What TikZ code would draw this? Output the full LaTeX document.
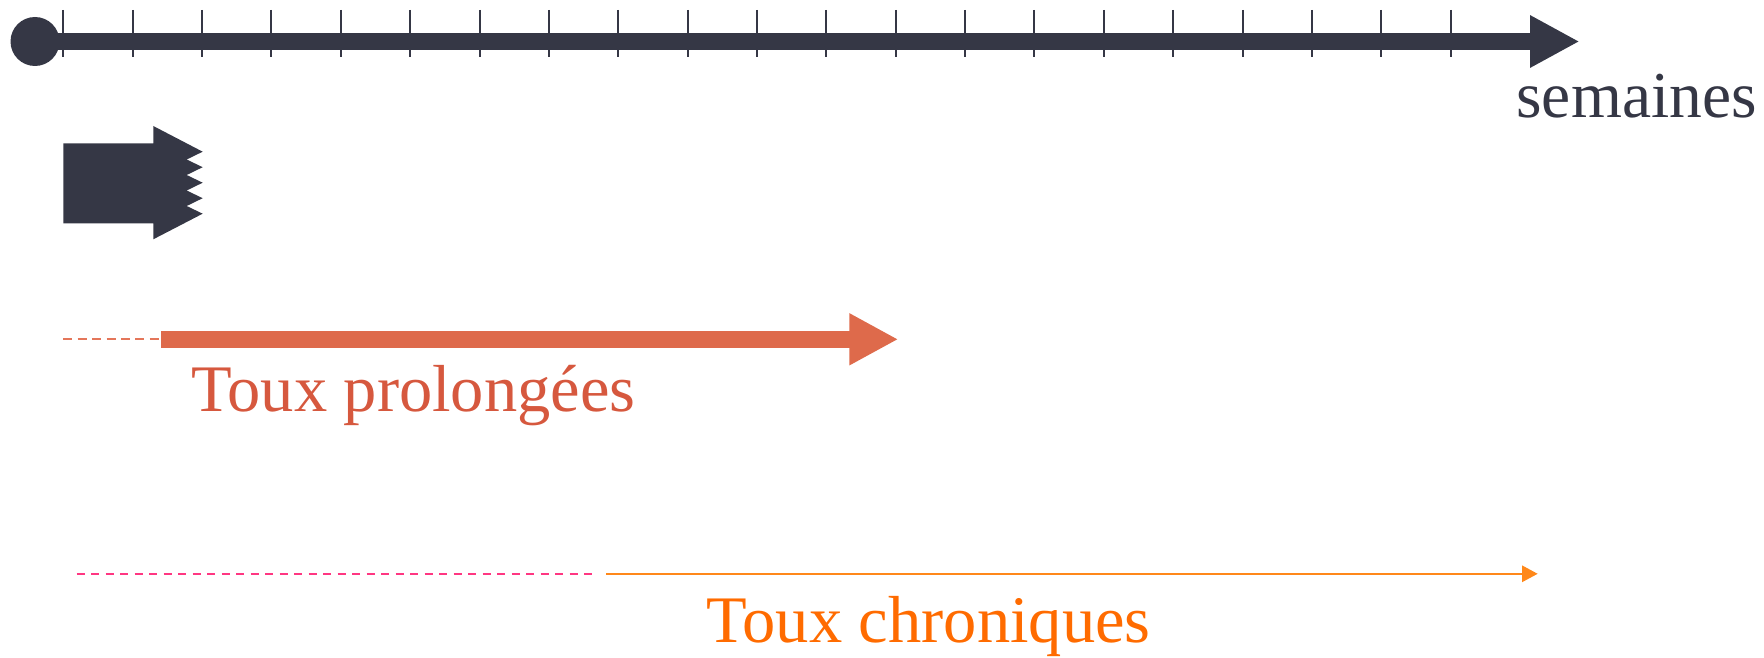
\documentclass[tikz,border=0pt]{standalone}
\usepackage{fontspec}
\setmainfont{Liberation Serif}
\usetikzlibrary{arrows.meta}

\definecolor{ink}{RGB}{53,55,69}
\definecolor{prolong}{RGB}{222,106,75}
\definecolor{prolongtxt}{RGB}{214,88,62}
\definecolor{prolongdash}{RGB}{228,118,90}
\definecolor{chron}{RGB}{255,136,26}
\definecolor{chrontxt}{RGB}{255,107,0}
\definecolor{pinkdash}{RGB}{255,55,130}

\tikzset{
  label/.style={inner sep=0pt, outer sep=0pt, anchor=base west,
    font=\fontsize{66.5}{80}\selectfont},
  axisline/.style={draw=ink, line width=16.5pt,
    -{Triangle[length=49.5pt,width=49pt]}},
  tickline/.style={draw=ink, line width=2pt},
  prolongarrow/.style={draw=prolong, line width=16.5pt,
    -{Triangle[length=49pt,width=48.5pt]}},
  prolongdashed/.style={draw=prolongdash, line width=2.3pt,
    dash pattern=on 9pt off 5.4pt},
  chronarrow/.style={draw=chron, line width=2.2pt,
    -{Triangle[length=15.7pt,width=16.3pt]}},
  chrondashed/.style={draw=pinkdash, line width=2.2pt,
    dash pattern=on 8pt off 6.5pt}
}

\begin{document}
\begin{tikzpicture}[x=1pt,y=-1pt]
  \useasboundingbox (0,0) rectangle (1764,658);

  % time axis in weeks
  \node (origin) [circle, fill=ink, minimum size=49pt, inner sep=0pt] at (35,41.5) {};
  \coordinate (axisend) at (1579.5,41.5);
  \draw[axisline] (origin.center) -- (axisend);
  \foreach \i in {0,...,20}
    \draw[tickline] ({63.3+69.37*\i},10) -- ++(0,47);
  \node[label, text=ink, font=\fontsize{65.5}{78}\selectfont] (weeks) at (1516.5,117.3) {semaines};

  % acute phase: short block arrow with a serrated head
  \fill[ink] (63.3,143.3) -- (153.3,143.3) -- (153.3,126)
    -- (202.7,151.7) -- (186.7,159.5) -- (202.7,167.2) -- (186.7,175)
    -- (202.7,182.7) -- (186.7,190.5) -- (202.7,198.2) -- (186.7,206)
    -- (202.7,213.7) -- (153.3,239.3) -- (153.3,223.3) -- (63.3,223.3) -- cycle;

  % prolonged cough
  \coordinate (pstart) at (63.3,339.3);
  \coordinate (pmid) at (159,339.3);
  \coordinate (pbody) at (161,339.3);
  \coordinate (pend) at (898.3,339.3);
  \draw[prolongdashed] (pstart) -- (pmid);
  \draw[prolongarrow] (pbody) -- (pend);
  \node[label, text=prolongtxt] (prolongue) at (191.5,411) {Toux prolongées};

  % chronic cough
  \coordinate (cstart) at (76.5,573.8);
  \coordinate (cmid) at (592.3,573.8);
  \coordinate (cbody) at (606,573.8);
  \coordinate (cend) at (1537.7,573.8);
  \draw[chrondashed] (cstart) -- (cmid);
  \draw[chronarrow] (cbody) -- (cend);
  \node[label, text=chrontxt] (chronique) at (706.5,642.7) {Toux chroniques};
\end{tikzpicture}
\end{document}
